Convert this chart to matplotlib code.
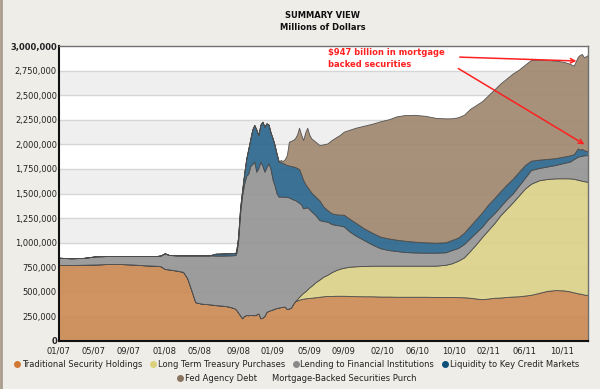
#!/usr/bin/env python3
# -*- coding: utf-8 -*-

#<----------------------------- Imports ------------------------------------>
import matplotlib
matplotlib.use("Agg")
import matplotlib.pyplot as plt
from matplotlib.lines import Line2D
from matplotlib.ticker import FuncFormatter

plt.rcParams['font.family'] = ['DejaVu Sans']

#<------------------------- Data (billions of $) --------------------------->
# x = week index since the first week of 2007
weeks = [0, 6, 12, 18, 24, 30, 36, 42, 48, 50, 52, 54, 58, 61, 63, 65, 67, 70,
         74, 77, 80, 83, 86, 87, 88, 89, 90, 91, 92, 93, 94, 95, 96, 97, 98,
         99, 100, 101, 102, 103, 104, 105, 106, 107, 108, 109, 110, 111, 112,
         113, 114, 115, 116, 117, 118, 119, 120, 121, 122, 123, 124, 126, 128,
         130, 132, 134, 136, 138, 140, 143, 146, 150, 154, 158, 162, 166, 170,
         175, 180, 185, 190, 193, 196, 199, 202, 205, 208, 211, 214, 217, 220,
         223, 226, 229, 232, 236, 240, 244, 248, 251, 253, 255, 256, 257, 258,
         260]

traditional = [773, 773, 775, 778, 783, 783, 778, 770, 765, 760, 732, 728, 715,
               703, 640, 520, 395, 380, 373, 365, 360, 352, 335, 320, 290, 262,
               231, 255, 264, 262, 264, 264, 262, 270, 281, 231, 238, 255, 298,
               305, 315, 320, 330, 335, 340, 345, 348, 349, 325, 330, 340, 375,
               405, 412, 420, 425, 430, 434, 436, 438, 440, 445, 450, 455, 458,
               458, 460, 460, 460, 458, 456, 455, 455, 452, 452, 450, 450, 450,
               450, 448, 448, 448, 446, 445, 440, 432, 425, 432, 440, 442, 448,
               452, 455, 462, 470, 490, 510, 518, 515, 505, 495, 485, 482, 478,
               472, 468]

treasury = [0] * 53 + [13, 30, 45, 60, 71, 89, 107, 120, 152, 175, 200, 217,
                       242, 260, 275, 285, 298, 304, 308, 311, 314, 314, 316,
                       316, 316, 316, 318, 327, 342, 369, 405, 475, 553, 635,
                       698, 760, 838, 897, 958, 1025, 1088, 1130, 1145, 1138,
                       1136, 1140, 1149, 1155, 1155, 1153, 1152, 1153, 1152]

lending = [74, 68, 70, 83, 81, 81, 86, 94, 99, 110, 160, 147, 156, 168, 231,
           351, 476, 491, 498, 503, 508, 518, 537, 560, 710, 1038, 1249, 1345,
           1416, 1438, 1516, 1536, 1562, 1452, 1479, 1593, 1542, 1467, 1472,
           1502, 1435, 1320, 1250, 1165, 1128, 1125, 1120, 1116, 1143, 1130,
           1110, 1065, 1029, 995, 955, 920, 859, 850, 835, 795, 760, 684, 605,
           565, 538, 490, 460, 440, 420, 354, 310, 262, 214, 177, 159, 149,
           139, 134, 132, 132, 127, 135, 130, 135, 130, 120, 105, 110, 100, 90,
           95, 90, 100, 110, 139, 125, 127, 136, 155, 170, 200, 235, 245, 255,
           263, 271]

liquidity = [0] * 19 + [20, 22, 22, 23, 20, 50, 50, 50, 100, 170, 250, 270,
                        350, 373, 428, 335, 376, 450, 457, 444, 393, 370, 421,
                        410, 400, 356, 350, 342, 335, 322, 325, 330, 335, 336,
                        340, 345, 310, 291, 245, 209, 200, 190, 189, 200, 146,
                        117, 109, 110, 110, 120, 130, 130, 120, 120, 118, 118,
                        115, 115, 110, 106, 102, 102, 102, 105, 115, 125, 135,
                        145, 150, 155, 155, 150, 150, 140, 130, 95, 85, 77, 70,
                        65, 64, 50, 84, 65, 70, 52, 39]

agency_mbs = [0] * 45 + [21, 20, 50, 101, 242, 255, 270, 291, 340, 419, 400,
                         404, 520, 600, 560, 551, 557, 563, 634, 680, 745, 780,
                         810, 844, 910, 970, 1045, 1110, 1174, 1212, 1255, 1278,
                         1290, 1286, 1270, 1260, 1238, 1225, 1200, 1190, 1160,
                         1130, 1110, 1105, 1095, 1080, 1070, 1040, 1020, 1024,
                         1015, 1006, 992, 965, 932, 900, 932, 965, 964, 945,
                         979]

tick_weeks = [0, 17, 34, 52, 69, 88, 105, 123, 140, 159, 176, 194, 211, 229, 247]
tick_labels = ['01/07', '05/07', '09/07', '01/08', '05/08', '09/08', '01/09',
               '05/09', '09/09', '02/10', '06/10', '10/10', '02/11', '06/11',
               '10/11']

names = ['Traditional Security Holdings', 'Long Term Treasury Purchases',
         'Lending to Financial Institutions', 'Liquidity to Key Credit Markets',
         'Fed Agency Debt', 'Mortgage-Backed Securities Purch']

fill_colors = ['#CC8A55', '#DBD288', '#959595', '#2B668C', '#A08870']
dot_colors = ['#D07A35', '#DCD07A', '#8A8A8A', '#0F4F7A', '#8A7560']

#<--------------------------- Figure -------------------------------------->
bg = '#EFEDE8'
fig = plt.figure(figsize=(6, 3.89), dpi=100, facecolor=bg)
ax = fig.add_axes([0.0983, 0.1234, 0.8817, 0.7583])
ax.set_facecolor('white')

# alternating bands + grid
for lo in range(0, 3000, 500):
    ax.axhspan(lo, lo + 250, color='#EFEFEF', zorder=0, lw=0)
for v in range(250, 3000, 250):
    ax.axhline(v, color='#D6D6D6', lw=1, zorder=0.5)

ax.stackplot(weeks, traditional, treasury, lending, liquidity, agency_mbs,
             colors=fill_colors, alpha=0.92, edgecolor='#4A4A4A',
             linewidth=0.6, zorder=2)

ax.set_xlim(0, 260)
ax.set_ylim(0, 3000)
ax.set_yticks(range(0, 3001, 250))
ax.yaxis.set_major_formatter(FuncFormatter(lambda v, p: f'{v * 1000:,.0f}'))
ax.set_xticks(tick_weeks)
ax.set_xticklabels(tick_labels)
ax.tick_params(axis='both', length=0, labelsize=6, labelcolor='#222222')
ax.tick_params(axis='y', pad=1.5)
ax.tick_params(axis='x', pad=4)
ylabels = ax.get_yticklabels()
ylabels[0].set_fontweight('bold')
ylabels[-1].set_fontweight('bold')

for s in ['left', 'bottom']:
    ax.spines[s].set_color('#111111')
    ax.spines[s].set_linewidth(1.5)
for s in ['top', 'right']:
    ax.spines[s].set_color('#707070')
    ax.spines[s].set_linewidth(1)

#<------------------------- Titles ---------------------------------------->
fig.text(0.538, 0.961, 'SUMMARY VIEW', ha='center', va='center',
         fontsize=6, fontweight='bold', color='#111111')
fig.text(0.538, 0.930, 'Millions of Dollars', ha='center', va='center',
         fontsize=6, fontweight='bold', color='#111111')

#<------------------------ Annotation ------------------------------------>
ax.text(0.508, 0.993, '$947 billion in mortgage\nbacked securities',
        transform=ax.transAxes, ha='left', va='top', color='#FF2020',
        fontsize=6, fontweight='bold', linespacing=1.35, zorder=5)
arrow = dict(arrowstyle='->', color='#FF2020', lw=1.1, mutation_scale=8)
ax.annotate('', xy=(255.7, 2847), xytext=(195.6, 2888), arrowprops=arrow,
            zorder=5)
ax.annotate('', xy=(259.4, 1985), xytext=(195.1, 2786), arrowprops=arrow,
            zorder=5)

#<--------------------------- Legend -------------------------------------->
handles = [Line2D([], [], ls='', marker='o', ms=4, color=c) for c in dot_colors]
handles.append(Line2D([], [], ls='', marker=''))
kw = dict(frameon=False, fontsize=6, handlelength=0.6, handletextpad=0.25,
          columnspacing=1.0, borderaxespad=0, borderpad=0)
leg1 = fig.legend(handles[:4], names[:4], loc='center', ncol=4,
                  bbox_to_anchor=(0.495, 0.064), **kw)
leg2 = fig.legend(handles[4:], names[4:], loc='center', ncol=2,
                  bbox_to_anchor=(0.495, 0.026), **kw)
for leg in (leg1, leg2):
    for t in leg.get_texts():
        t.set_color('#222222')

# left frame line of the widget
fig.add_artist(Line2D([0.002, 0.002], [0, 1], transform=fig.transFigure,
                      color='#A89C8C', lw=2))

fig.savefig('out.png', dpi=100, facecolor=bg)
